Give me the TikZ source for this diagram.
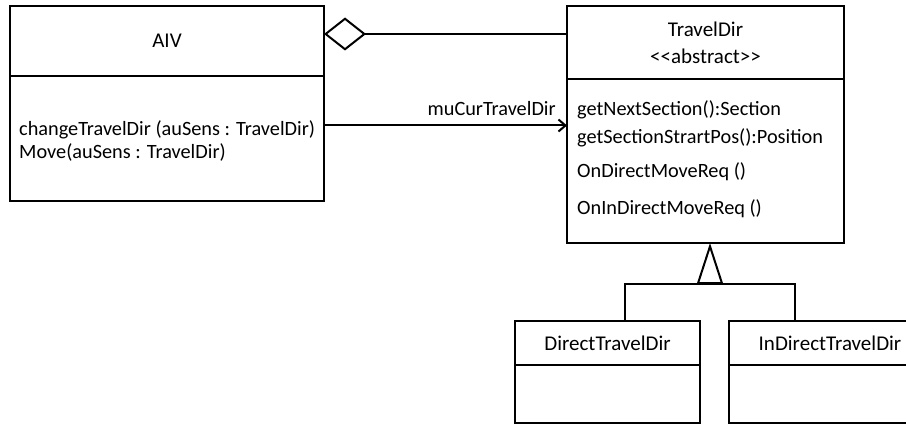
\documentclass[tikz,border=0pt]{standalone}
\usepackage{fontspec}
\setmainfont{Carlito}
\usetikzlibrary{arrows.meta}
\usetikzlibrary{positioning}
\tikzset{>={Straight Barb[length=7pt,width=12pt]}}
\tikzstyle{umlbox}=[draw,line width=2pt,inner sep=0pt,outer sep=0pt]
\tikzstyle{umltext}=[inner sep=0pt,anchor=west,font=\fontsize{20.3}{23}\selectfont]
\tikzstyle{umlline}=[line width=2pt]

\begin{document}
\begin{tikzpicture}[x=1pt,y=-1pt]
  \useasboundingbox (0,0) rectangle (906,425);
  \clip (0,0) rectangle (906,425);
  % class AIV
  \node[umlbox,minimum width=314pt,minimum height=70pt,font=\fontsize{21}{24}\selectfont] (aivhead) at (167,41) {AIV};
  \node[umlbox,minimum width=314pt,minimum height=125pt,below=0pt of aivhead] (aivbody) {};
  \node[umltext,align=left] (aivops) at (19,141) {changeTravelDir (auSens : TravelDir)\\Move(auSens : TravelDir)};
  % class TravelDir
  \node[umlbox,minimum width=277pt,minimum height=73pt,align=center,font=\fontsize{21}{27}\selectfont] (travelhead) at (705.5,42.5) {TravelDir\\<{}<abstract>{}>};
  \node[umlbox,minimum width=277pt,minimum height=164pt,below=0pt of travelhead] (travelbody) {};
  \node[umltext] (opnext) at (577,110) {getNextSection():Section};
  \node[umltext] (opstart) at (577,138) {getSectionStrartPos():Position};
  \node[umltext] (opdirect) at (577,172) {OnDirectMoveReq ()};
  \node[umltext] (opindirect) at (577,209) {OnInDirectMoveReq ()};
  % subclasses
  \node[umlbox,minimum width=185pt,minimum height=44pt,font=\fontsize{21}{24}\selectfont] (directhead) at (607.5,343) {DirectTravelDir};
  \node[umlbox,minimum width=185pt,minimum height=58pt,below=0pt of directhead] (directbody) {};
  \node[umlbox,minimum width=202pt,minimum height=44pt,font=\fontsize{21}{24}\selectfont] (indirecthead) at (830,343) {InDirectTravelDir};
  \node[umlbox,minimum width=202pt,minimum height=58pt,below=0pt of indirecthead] (indirectbody) {};
  % aggregation
  \draw[umlline,{Diamond[open,length=42pt,width=33pt,line width=2pt]}-] ([yshift=7pt]aivhead.east) -- ([yshift=7pt]aivhead.east -| travelhead.west);
  % association
  \draw[umlline,->] ([yshift=13pt]aivbody.east) -- ([yshift=13pt]aivbody.east -| travelbody.west)
    node[pos=0.69,above=6pt,font=\fontsize{20.3}{23}\selectfont]{muCurTravelDir};
  % generalisation
  \coordinate (fork) at (710,284);
  \draw[umlline,-{Triangle[open,length=41pt,width=26pt,line width=2pt]}] (fork) -- (fork |- travelbody.south);
  \draw[umlline] ([xshift=17.5pt]directhead.north) |- (fork) -| ([xshift=-35pt]indirecthead.north);
\end{tikzpicture}
\end{document}
